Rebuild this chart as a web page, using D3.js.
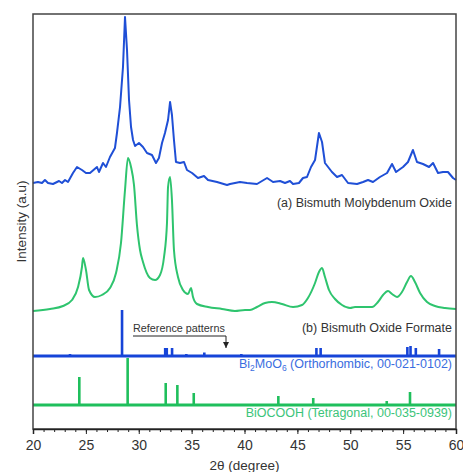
<!DOCTYPE html>
<html>
<head>
<meta charset="utf-8">
<script src="https://cdn.jsdelivr.net/npm/d3@7"></script>
<style>
    body { margin: 0; background: #fff; }
    svg { display: block; font-family: "Liberation Sans", Arial, sans-serif; }
</style>
</head>
<body>
<svg id="xrd" width="463" height="472"></svg>
<script>
// 2theta values and intensity (a.u.) for the Bismuth Molybdenum Oxide scan
const molyTheta = [20.00, 20.47, 20.85, 21.13, 21.42, 21.89, 22.46, 22.74, 23.03, 23.31, 23.78, 24.16, 24.63, 25.01, 25.39, 26.05, 26.24, 26.62, 26.90, 27.28,
    27.75, 27.94, 28.23, 28.51, 28.70, 28.89, 29.08, 29.27, 29.46, 29.65, 30.02, 30.40, 30.78, 31.25, 31.63, 31.91, 32.20, 32.48, 32.77, 32.96,
    33.14, 33.33, 33.52, 33.90, 34.28, 34.56, 35.04, 35.60, 36.17, 36.55, 37.40, 38.35, 38.63, 39.57, 40.24, 41.18, 42.13, 42.70, 43.36, 43.83,
    44.30, 44.59, 45.15, 45.53, 45.91, 46.29, 46.67, 47.04, 47.33, 47.61, 48.27, 48.75, 49.22, 49.79, 50.64, 51.21, 51.68, 52.15, 52.81, 53.48,
    53.95, 54.33, 54.99, 55.46, 55.93, 56.31, 56.88, 57.45, 57.83, 58.30, 58.77, 59.24, 59.72, 60.00];
const molyIntensity = [246, 247, 246, 249, 246, 245, 248, 246, 249, 247, 256, 262, 259, 256, 256, 262, 257, 266, 262, 272,
    281, 296, 322, 362, 412, 379, 329, 302, 289, 283, 286, 282, 276, 274, 266, 271, 286, 296, 309, 327,
    314, 289, 267, 266, 267, 259, 256, 251, 253, 249, 247, 244, 245, 247, 246, 245, 251, 247, 248, 246,
    248, 245, 246, 251, 252, 262, 269, 296, 287, 266, 257, 252, 254, 246, 245, 247, 249, 247, 252, 256,
    265, 257, 262, 267, 279, 267, 265, 262, 266, 256, 257, 257, 251, 249];

// 2theta values and intensity (a.u.) for the Bismuth Oxide Formate scan
const formateTheta = [20.00, 21.61, 22.84, 23.69, 24.26, 24.63, 24.73, 25.01, 25.30, 25.86, 26.52, 27.28, 27.85, 28.32, 28.70, 28.98, 29.27, 29.55, 29.83, 30.12,
    30.40, 31.06, 31.54, 32.01, 32.39, 32.67, 32.77, 32.96, 33.14, 33.33, 33.71, 34.18, 34.66, 34.94, 35.13, 35.51, 36.55, 37.87, 39.10, 40.05,
    40.52, 41.18, 41.94, 42.60, 43.55, 44.59, 45.44, 46.00, 46.67, 47.04, 47.33, 47.61, 47.99, 48.56, 49.22, 49.98, 50.45, 52.06, 52.62, 53.10,
    53.57, 53.95, 54.42, 54.89, 55.37, 55.74, 56.12, 56.60, 57.26, 58.01, 58.96, 60.00];
const formateIntensity = [118, 120, 123, 129, 142, 162, 171, 159, 139, 132, 134, 141, 156, 186, 239, 271, 262, 244, 204, 179,
    167, 151, 149, 154, 172, 206, 242, 252, 229, 179, 152, 139, 135, 141, 132, 125, 122, 120, 118, 119,
    119, 122, 126, 127, 125, 122, 124, 131, 146, 157, 161, 152, 139, 130, 124, 121, 122, 122, 127, 134,
    138, 135, 132, 137, 147, 153, 147, 136, 127, 123, 121, 120];

// Reference pattern Bi2MoO6 (00-021-0102): positions and stick heights
const bmoBase = 73;
const bmoTheta = [23.5, 28.42, 32.5, 32.65, 33.15, 34.5, 36.2, 39.7, 46.8, 47.2, 55.4, 55.7, 56.2, 58.4];
const bmoHeight = [2, 46, 8, 8, 8, 2, 3.5, 2, 8, 8, 9, 10, 8, 7];

// Reference pattern BiOCOOH (00-035-0939)
const bocBase = 24;
const bocTheta = [24.38, 28.95, 32.55, 33.65, 35.2, 43.2, 46.5, 53.45, 55.65];
const bocHeight = [28, 47, 22, 20, 12, 9, 7, 4, 13];

const xTicks = [20, 25, 30, 35, 40, 45, 50, 55, 60];

const blue = "#1f4fd6";
const green = "#2ec46e";

const svg = d3.select("#xrd");
const plot = { left: 33, right: 456, top: 14, bottom: 429 };

const x = d3.scaleLinear().domain([20, 60]).range([plot.left, plot.right]);
const y = d3.scaleLinear().domain([0, 415]).range([plot.bottom, plot.top]);

// arrow head for the annotation
svg.append("defs").append("marker")
    .attr("id", "arr")
    .attr("viewBox", "0 0 10 10")
    .attr("refX", 10).attr("refY", 5)
    .attr("markerWidth", 6).attr("markerHeight", 6)
    .attr("orient", "auto")
    .append("path")
    .attr("d", "M0,0 L10,5 L0,10 z")
    .attr("fill", "#222");

// measured scans
const line = d3.line().x(d => x(d[0])).y(d => y(d[1]));

svg.append("path")
    .datum(d3.zip(molyTheta, molyIntensity))
    .attr("d", line)
    .attr("fill", "none")
    .attr("stroke", blue)
    .attr("stroke-width", 2)
    .attr("stroke-linejoin", "round");

svg.append("path")
    .datum(d3.zip(formateTheta, formateIntensity))
    .attr("d", line.curve(d3.curveMonotoneX))
    .attr("fill", "none")
    .attr("stroke", green)
    .attr("stroke-width", 2);

// reference sticks
function drawSticks(theta, height, base, color) {
    svg.append("g").selectAll("line")
        .data(d3.zip(theta, height))
        .join("line")
        .attr("x1", d => x(d[0])).attr("x2", d => x(d[0]))
        .attr("y1", y(base)).attr("y2", d => y(base + d[1]))
        .attr("stroke", color)
        .attr("stroke-width", 2.6);

    svg.append("line")
        .attr("x1", plot.left).attr("x2", plot.right)
        .attr("y1", y(base)).attr("y2", y(base))
        .attr("stroke", color)
        .attr("stroke-width", 3);
}
drawSticks(bocTheta, bocHeight, bocBase, "#1fbf5c");
drawSticks(bmoTheta, bmoHeight, bmoBase, "#1644d8");

// frame
svg.append("rect")
    .attr("x", plot.left).attr("y", plot.top)
    .attr("width", plot.right - plot.left)
    .attr("height", plot.bottom - plot.top)
    .attr("fill", "none")
    .attr("stroke", "#444")
    .attr("stroke-width", 1.5);

// x axis with minor ticks every degree
const minor = svg.append("g")
    .attr("transform", `translate(0,${plot.bottom})`)
    .call(d3.axisBottom(x).ticks(40).tickSize(3).tickFormat(""));
minor.select(".domain").remove();
minor.selectAll("line").attr("stroke", "#222");

const xAxis = svg.append("g")
    .attr("transform", `translate(0,${plot.bottom})`)
    .call(d3.axisBottom(x).tickValues(xTicks).tickSize(5).tickPadding(6));
xAxis.select(".domain").attr("stroke", "#222").attr("stroke-width", 1.5);
xAxis.selectAll("line").attr("stroke", "#222");
xAxis.selectAll("text")
    .attr("font-size", 14)
    .attr("font-family", "Liberation Sans, Arial, sans-serif")
    .attr("fill", "#333");

svg.append("text")
    .attr("x", (plot.left + plot.right) / 2)
    .attr("y", 470)
    .attr("text-anchor", "middle")
    .attr("font-size", 13.5)
    .attr("fill", "#333")
    .text("2θ (degree)");

svg.append("text")
    .attr("transform", `translate(26,${(plot.top + plot.bottom) / 2}) rotate(-90)`)
    .attr("text-anchor", "middle")
    .attr("font-size", 13.5)
    .attr("fill", "#333")
    .text("Intensity (a.u)");

// sample labels
const labels = [
    { text: "(a) Bismuth Molybdenum Oxide", y: 207, color: "#333" },
    { text: "(b) Bismuth Oxide Formate", y: 332, color: "#333" },
    { text: "BiOCOOH (Tetragonal, 00-035-0939)", y: 417, color: "#3cc47a" }
];
labels.forEach(l => {
    svg.append("text")
        .attr("x", 452).attr("y", l.y)
        .attr("text-anchor", "end")
        .attr("font-size", 12.5)
        .attr("fill", l.color)
        .text(l.text);
});

const bmoLabel = svg.append("text")
    .attr("x", 452).attr("y", 368)
    .attr("text-anchor", "end")
    .attr("font-size", 12.5)
    .attr("fill", "#3a6de0");
bmoLabel.append("tspan").text("Bi");
bmoLabel.append("tspan").attr("font-size", 8.5).attr("dy", 3).text("2");
bmoLabel.append("tspan").attr("dy", -3).text("MoO");
bmoLabel.append("tspan").attr("font-size", 8.5).attr("dy", 3).text("6");
bmoLabel.append("tspan").attr("dy", -3).text(" (Orthorhombic, 00-021-0102)");

// reference patterns annotation
svg.append("text")
    .attr("x", 133).attr("y", 332)
    .attr("font-size", 10.8)
    .attr("fill", "#333")
    .text("Reference patterns");

svg.append("path")
    .attr("d", "M133,336 H226 V348")
    .attr("fill", "none")
    .attr("stroke", "#222")
    .attr("stroke-width", 1)
    .attr("marker-end", "url(#arr)");
</script>
</body>
</html>
